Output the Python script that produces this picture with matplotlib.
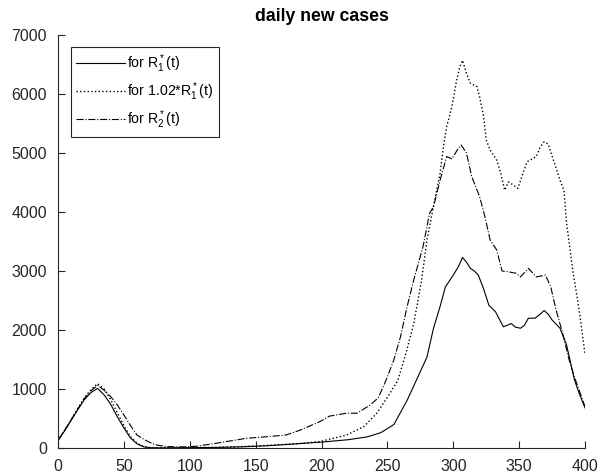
import matplotlib.pyplot as plt

plt.rcParams['font.family'] = ['Liberation Sans', 'DejaVu Sans']
plt.rcParams['mathtext.fontset'] = 'custom'
plt.rcParams['mathtext.rm'] = 'Liberation Sans'

# solid: R1*(t)
days_r1 = [0, 5, 10, 15, 20, 25, 30, 35, 40, 45, 50, 55, 60, 65, 70, 80, 100, 120,
           140, 160, 180, 200, 220, 235, 245, 255, 265, 272, 280, 285, 290, 294,
           300, 304, 307, 310, 313, 316, 319, 323, 327, 332, 338, 341, 344, 347,
           351, 354, 357, 362, 366, 369, 372, 375, 378, 381, 386, 392, 396, 400]
cases_r1 = [130, 290, 470, 650, 820, 940, 1010, 900, 740, 530, 340, 170, 70, 20, 5,
            2, 5, 10, 20, 40, 70, 100, 140, 190, 260, 400, 810, 1150, 1540, 2030,
            2400, 2730, 2930, 3080, 3230, 3150, 3045, 3000, 2930, 2700, 2420, 2310,
            2055, 2080, 2110, 2050, 2030, 2080, 2200, 2200, 2270, 2330, 2270, 2170,
            2100, 2030, 1745, 1150, 900, 680]

# dotted: 1.02*R1*(t)
days_r1b = [0, 5, 10, 15, 20, 25, 30, 35, 40, 45, 50, 55, 60, 65, 70, 80, 100, 120,
            140, 160, 180, 199, 219, 232, 242, 252, 258, 264, 270, 276, 280, 285,
            290, 292.5, 295, 299, 302.6, 305, 307, 310, 313, 318, 320, 323, 325,
            328, 333, 336, 339, 342, 346, 349, 352, 356, 363, 366, 369, 372, 376,
            381, 384, 386, 391, 394, 397, 400]
cases_r1b = [130, 300, 480, 670, 850, 990, 1090, 1000, 820, 600, 380, 190, 80, 25, 8,
             3, 5, 10, 25, 45, 70, 110, 220, 360, 590, 930, 1150, 1600, 2110, 2850,
             3525, 4100, 4660, 5100, 5450, 5785, 6240, 6460, 6570, 6350, 6180, 6125,
             5950, 5620, 5220, 5050, 4880, 4660, 4370, 4510, 4450, 4400, 4600, 4850,
             4940, 5100, 5190, 5150, 4880, 4540, 4370, 3810, 2960, 2560, 2100, 1580]

# dash-dot: R2*(t)
days_r2 = [0, 5, 10, 15, 20, 25, 30, 35, 40, 45, 50, 55, 60, 65, 70, 75, 82, 90, 97,
           105, 120, 143, 158, 173, 184, 199, 206, 219, 227, 237, 243, 249, 255, 260,
           265, 270, 277, 282, 285, 290, 295, 299, 303, 306, 310, 314, 320, 324, 328,
           333, 337, 341, 348, 351, 357, 363, 370, 374, 378, 383, 388, 392, 396, 400]
cases_r2 = [130, 300, 480, 660, 840, 970, 1060, 980, 870, 730, 560, 380, 220, 150, 90,
            50, 25, 20, 20, 30, 80, 165, 190, 220, 305, 450, 540, 590, 590, 730, 850,
            1150, 1500, 1890, 2400, 2850, 3410, 3980, 4090, 4540, 4940, 4900, 5050,
            5135, 5000, 4600, 4260, 3920, 3525, 3355, 3000, 2990, 2960, 2900, 3045,
            2900, 2930, 2730, 2340, 1945, 1490, 1200, 950, 700]

labels = [r'for $\mathregular{R_1^*}$(t)',
          r'for 1.02*$\mathregular{R_1^*}$(t)',
          r'for $\mathregular{R_2^*}$(t)']

fig = plt.figure(figsize=(6.05, 4.76), dpi=100)
ax = fig.add_axes([0.0959, 0.0588, 0.8711, 0.8677])

ax.plot(days_r1, cases_r1, '-', color='black', lw=0.8, label=labels[0])
ax.plot(days_r1b, cases_r1b, ':', color='black', lw=1.0, label=labels[1])
ax.plot(days_r2, cases_r2, '-.', color='black', lw=0.8, label=labels[2])

ax.set_xlim(0, 400)
ax.set_ylim(0, 7000)
ax.set_xticks(range(0, 401, 50))
ax.set_yticks(range(0, 7001, 1000))
ax.spines['top'].set_visible(False)
ax.spines['right'].set_visible(False)
for s in ['left', 'bottom']:
    ax.spines[s].set_color('#262626')
    ax.spines[s].set_linewidth(0.8)
ax.tick_params(direction='in', length=5, width=0.8, colors='#262626',
               labelsize=11.5, labelcolor='#262626', pad=8)

ax.set_title('daily new cases', fontsize=12.7, fontweight='bold', pad=10)

leg = ax.legend(loc='upper left', bbox_to_anchor=(0.024, 0.972), fontsize=10.2,
                handlelength=3.4, handletextpad=0.2, fancybox=False, framealpha=1,
                edgecolor='#262626', borderpad=0.4, labelspacing=0.4,
                borderaxespad=0)
leg.get_frame().set_linewidth(0.8)

plt.savefig('out.png')
